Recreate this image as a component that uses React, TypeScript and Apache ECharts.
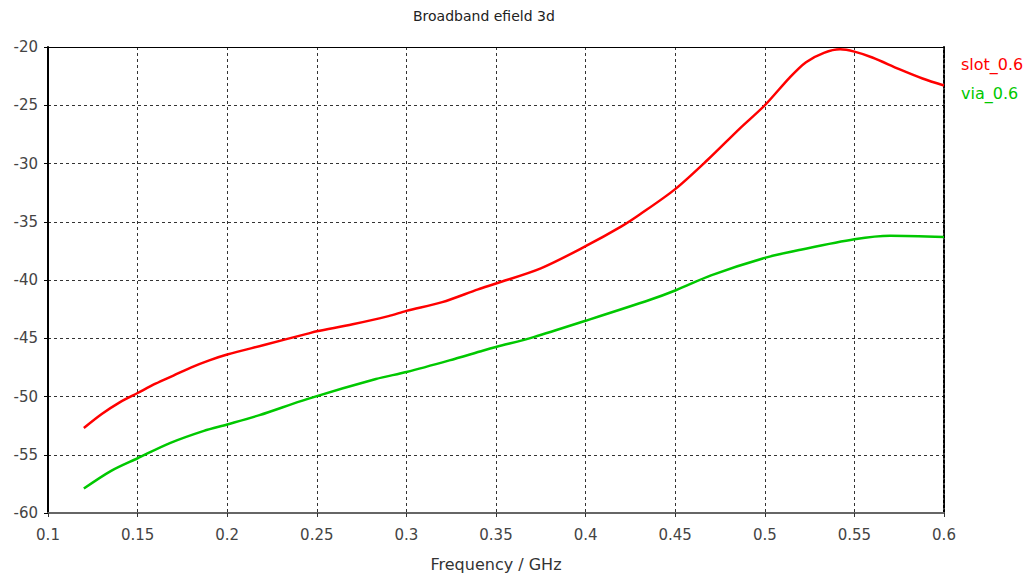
import React, { useEffect, useRef } from "react";
import * as echarts from "echarts";

const slotX = [0.12, 0.13, 0.14, 0.15, 0.16, 0.17, 0.18, 0.19, 0.2, 0.22, 0.245, 0.25, 0.27, 0.29, 0.3, 0.32, 0.34, 0.35, 0.375, 0.4, 0.42, 0.43, 0.45, 0.468, 0.486, 0.5, 0.514, 0.523, 0.533, 0.542, 0.55, 0.56, 0.575, 0.588, 0.6];
const slotY = [-52.7, -51.5, -50.5, -49.7, -48.9, -48.2, -47.5, -46.9, -46.4, -45.6, -44.6, -44.4, -43.8, -43.1, -42.65, -41.9, -40.8, -40.3, -39.0, -37.1, -35.4, -34.4, -32.2, -29.7, -27.0, -25.0, -22.6, -21.3, -20.5, -20.2, -20.4, -20.9, -21.9, -22.7, -23.3];
const viaX = [0.12, 0.135, 0.15, 0.168, 0.187, 0.2, 0.218, 0.245, 0.283, 0.3, 0.324, 0.343, 0.35, 0.371, 0.4, 0.436, 0.45, 0.47, 0.5, 0.52, 0.55, 0.57, 0.6];
const viaY = [-57.9, -56.4, -55.3, -54.0, -52.95, -52.4, -51.6, -50.2, -48.5, -47.9, -46.9, -46.05, -45.75, -44.9, -43.5, -41.7, -40.9, -39.6, -38.1, -37.4, -36.5, -36.2, -36.3];
const seriesNames = ["slot_0.6", "via_0.6"];
const seriesColors = ["#ff0000", "#00c800"];

export default function App() {
  const ref = useRef<HTMLDivElement>(null);
  useEffect(() => {
    const chart = echarts.init(ref.current!, undefined, { renderer: "svg" });
    const font = "DejaVu Sans";
    const split = { show: true, lineStyle: { type: [3, 3], color: "#333", width: 1 } };
    chart.setOption({
      animation: false,
      backgroundColor: "#fff",
      textStyle: { fontFamily: font },
      grid: { left: 48, right: 83, top: 47, bottom: 63 },
      graphic: [
        { type: "text", left: 413, top: 9, style: { text: "Broadband efield 3d", font: `14px ${font}`, fill: "#222" } },
        { type: "text", left: 961, top: 56, style: { text: seriesNames[0], font: `16px ${font}`, fill: seriesColors[0] } },
        { type: "text", left: 961, top: 85, style: { text: seriesNames[1], font: `16px ${font}`, fill: seriesColors[1] } },
      ],
      xAxis: [
        {
          type: "value", min: 0.1, max: 0.6, interval: 0.05,
          name: "Frequency / GHz", nameLocation: "middle", nameGap: 43,
          nameTextStyle: { fontSize: 16, color: "#333", fontFamily: font },
          axisLine: { lineStyle: { color: "#666", width: 2 } },
          axisTick: { show: true, length: 4, lineStyle: { color: "#333" } },
          axisLabel: { fontSize: 15, color: "#444", margin: 14, fontFamily: font, formatter: (v: number) => String(+v.toFixed(2)) },
          splitLine: split,
        },
        {
          type: "value", position: "top", min: 0.1, max: 0.6,
          axisLine: { show: true, lineStyle: { color: "#000", width: 1 } },
          axisTick: { show: false }, axisLabel: { show: false }, splitLine: { show: false },
        },
      ],
      yAxis: [
        {
          type: "value", min: -60, max: -20, interval: 5,
          axisLine: { show: true, lineStyle: { color: "#000", width: 2 } },
          axisTick: { show: true, length: 4, lineStyle: { color: "#000" } },
          axisLabel: { fontSize: 15, color: "#444", margin: 10, fontFamily: font },
          splitLine: split,
        },
        {
          type: "value", position: "right", min: -60, max: -20,
          axisLine: { show: true, lineStyle: { color: "#000", width: 2, type: [3, 2] } },
          axisTick: { show: false }, axisLabel: { show: false }, splitLine: { show: false },
        },
      ],
      series: [
        {
          name: seriesNames[0], type: "line", smooth: 0.3, showSymbol: false,
          data: slotX.map((x, i) => [x, slotY[i]]),
          lineStyle: { color: seriesColors[0], width: 2.5 }, itemStyle: { color: seriesColors[0] },
        },
        {
          name: seriesNames[1], type: "line", smooth: 0.3, showSymbol: false,
          data: viaX.map((x, i) => [x, viaY[i]]),
          lineStyle: { color: seriesColors[1], width: 2.5 }, itemStyle: { color: seriesColors[1] },
        },
      ],
    });
    return () => chart.dispose();
  }, []);
  return <div ref={ref} style={{ position: "fixed", left: 0, top: 0, width: 1027, height: 577 }} />;
}
